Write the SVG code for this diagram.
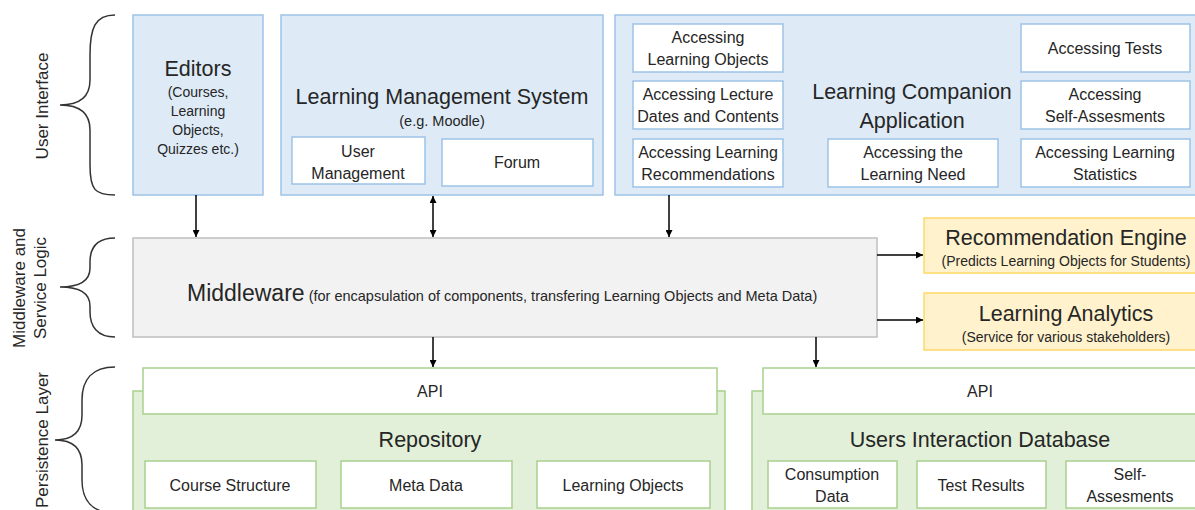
<svg xmlns="http://www.w3.org/2000/svg" width="1195" height="510" viewBox="0 0 1195 510">
<defs>
<marker id="ah" viewBox="0 0 10 10" refX="10" refY="5" markerWidth="7" markerHeight="7" markerUnits="userSpaceOnUse" orient="auto-start-reverse">
<path d="M0,0 L10,5 L0,10 z" fill="#000"/>
</marker>
<style>
text{font-family:"Liberation Sans",Arial,sans-serif;fill:#262626;text-anchor:middle}
.blue{fill:#deebf7;stroke:#9dc3e6;stroke-width:1.5}
.white{fill:#fff;stroke:#9dc3e6;stroke-width:1.5}
.green{fill:#e2f0d9;stroke:#a9d18e;stroke-width:1.5}
.gwhite{fill:#fff;stroke:#a9d18e;stroke-width:1.5}
.yellow{fill:#fff2cc;stroke:#ffd966;stroke-width:1.5}
.grey{fill:#f2f2f2;stroke:#bfbfbf;stroke-width:1.5}
.brace{fill:none;stroke:#333;stroke-width:1.5}
.conn{stroke:#000;stroke-width:1.5;fill:none;marker-end:url(#ah)}
.t20{font-size:21.5px}
.t14{font-size:16px}
.t12{font-size:14px}
.lbl{font-size:16px}
.side{font-size:17px}
</style>
</defs>
<rect width="1195" height="510" fill="#fff"/>

<g id="layer-labels">
<path class="brace" d="M115,15 C95,15 90,28 90,55 L90,80 C90,96 80,105 60,105 C80,105 90,114 90,130 L90,165 C90,190 95,195 115,195"/>
<text class="side" transform="translate(48,106) rotate(-90)">User Interface</text>
<path class="brace" d="M115,238 C97,238 90,248 90,262 L90,268 C90,280 80,287 60,287 C80,287 90,294 90,306 L90,312 C90,326 97,337 115,337"/>
<text class="side" transform="translate(25,288) rotate(-90)">Middleware and</text>
<text class="side" transform="translate(46,288) rotate(-90)">Service Logic</text>
<path class="brace" d="M115,367 C92,367 82,380 82,400 L82,415 C82,430 75,440 55,440 C75,440 82,450 82,465 L82,480 C82,500 92,513 115,513"/>
<text class="side" transform="translate(48,440) rotate(-90)">Persistence Layer</text>
</g>

<g id="editors">
<rect class="blue" x="133" y="15" width="130" height="180"/>
<text x="198" y="76" class="t20">Editors</text>
<text x="198" y="97" class="t12">(Courses,</text>
<text x="198" y="116" class="t12">Learning</text>
<text x="198" y="135" class="t12">Objects,</text>
<text x="198" y="154" class="t12">Quizzes etc.)</text>
</g>

<g id="lms">
<rect class="blue" x="281" y="15" width="322" height="180"/>
<text x="442" y="104" class="t20">Learning Management System</text>
<text x="442" y="126" font-size="14.5">(e.g. Moodle)</text>
<g id="user-management">
<rect class="white" x="292" y="137" width="133" height="47"/>
<text x="358" y="157" class="lbl">User</text>
<text x="358" y="179" class="lbl">Management</text>
</g>
<g id="forum">
<rect class="white" x="442" y="139" width="151" height="47"/>
<text x="517" y="168" class="lbl">Forum</text>
</g>
</g>

<g id="lca">
<rect class="blue" x="615" y="15" width="585" height="180"/>
<text x="912" y="99" class="t20">Learning Companion</text>
<text x="912" y="128" class="t20">Application</text>
<g id="acc-lo">
<rect class="white" x="633" y="24" width="150" height="48"/>
<text x="708" y="43" class="lbl">Accessing</text>
<text x="708" y="65" class="lbl">Learning Objects</text>
</g>
<g id="acc-lecture">
<rect class="white" x="633" y="81" width="150" height="48"/>
<text x="708" y="100" class="lbl">Accessing Lecture</text>
<text x="708" y="122" class="lbl">Dates and Contents</text>
</g>
<g id="acc-rec">
<rect class="white" x="633" y="139" width="150" height="48"/>
<text x="708" y="158" class="lbl">Accessing Learning</text>
<text x="708" y="180" class="lbl">Recommendations</text>
</g>
<g id="acc-need">
<rect class="white" x="828" y="139" width="170" height="48"/>
<text x="913" y="158" class="lbl">Accessing the</text>
<text x="913" y="180" class="lbl">Learning Need</text>
</g>
<g id="acc-tests">
<rect class="white" x="1021" y="24" width="169" height="48"/>
<text x="1105" y="54" class="lbl">Accessing Tests</text>
</g>
<g id="acc-self">
<rect class="white" x="1021" y="81" width="169" height="48"/>
<text x="1105" y="100" class="lbl">Accessing</text>
<text x="1105" y="122" class="lbl">Self-Assesments</text>
</g>
<g id="acc-stats">
<rect class="white" x="1021" y="139" width="169" height="48"/>
<text x="1105" y="158" class="lbl">Accessing Learning</text>
<text x="1105" y="180" class="lbl">Statistics</text>
</g>
</g>

<g id="middleware">
<rect class="grey" x="133" y="238" width="744" height="99"/>
<text x="187" y="301" style="text-anchor:start"><tspan font-size="23">Middleware</tspan><tspan font-size="14.5"> (for encapsulation of components, transfering Learning Objects and Meta Data)</tspan></text>
</g>

<g id="recommendation-engine">
<rect class="yellow" x="924" y="218" width="280" height="55"/>
<text x="1066" y="245" class="t20">Recommendation Engine</text>
<text x="1066" y="266" class="t12">(Predicts Learning Objects for Students)</text>
</g>

<g id="learning-analytics">
<rect class="yellow" x="924" y="293" width="280" height="57"/>
<text x="1066" y="321" class="t20">Learning Analytics</text>
<text x="1066" y="342" class="t12">(Service for various stakeholders)</text>
</g>

<g id="repository">
<rect class="green" x="133" y="391" width="592" height="130"/>
<rect class="gwhite" x="143" y="368" width="574" height="46"/>
<text x="430" y="397" class="t14">API</text>
<text x="430" y="447" class="t20">Repository</text>
<g id="course-structure">
<rect class="gwhite" x="145" y="461" width="171" height="47"/>
<text x="230" y="491" class="lbl">Course Structure</text>
</g>
<g id="meta-data">
<rect class="gwhite" x="341" y="461" width="171" height="47"/>
<text x="426" y="491" class="lbl">Meta Data</text>
</g>
<g id="learning-objects">
<rect class="gwhite" x="537" y="461" width="173" height="47"/>
<text x="623" y="491" class="lbl">Learning Objects</text>
</g>
</g>

<g id="uid">
<rect class="green" x="752" y="391" width="460" height="130"/>
<rect class="gwhite" x="763" y="368" width="440" height="46"/>
<text x="980" y="397" class="t14">API</text>
<text x="980" y="447" class="t20">Users Interaction Database</text>
<g id="consumption-data">
<rect class="gwhite" x="768" y="461" width="129" height="47"/>
<text x="832" y="480" class="lbl">Consumption</text>
<text x="832" y="502" class="lbl">Data</text>
</g>
<g id="test-results">
<rect class="gwhite" x="917" y="461" width="129" height="47"/>
<text x="981" y="491" class="lbl">Test Results</text>
</g>
<g id="self-assesments">
<rect class="gwhite" x="1066" y="461" width="140" height="47"/>
<text x="1130" y="480" class="lbl">Self-</text>
<text x="1130" y="502" class="lbl">Assesments</text>
</g>
</g>

<g id="connectors">
<line class="conn" x1="196" y1="195" x2="196" y2="237"/>
<line class="conn" x1="433" y1="196" x2="433" y2="237" style="marker-start:url(#ah)"/>
<line class="conn" x1="669" y1="195" x2="669" y2="237"/>
<line class="conn" x1="877" y1="255" x2="923" y2="255"/>
<line class="conn" x1="877" y1="320" x2="923" y2="320"/>
<line class="conn" x1="433" y1="337" x2="433" y2="367"/>
<line class="conn" x1="816" y1="337" x2="816" y2="367"/>
</g>
</svg>
